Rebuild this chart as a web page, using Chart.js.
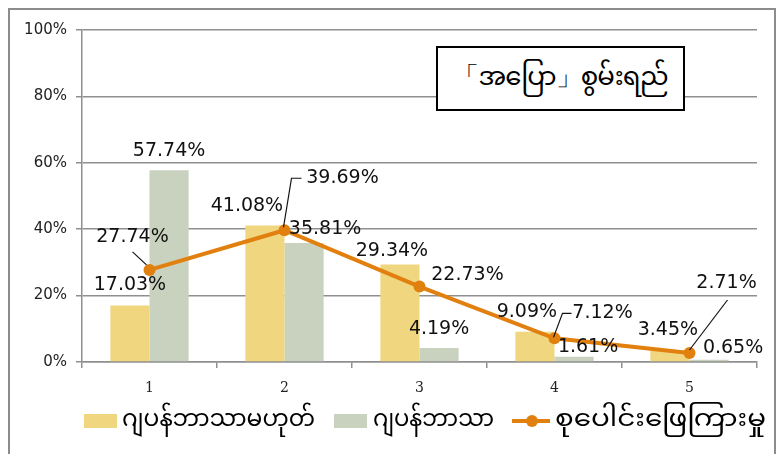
<!DOCTYPE html>
<html>
<head>
<meta charset="utf-8">
<script src="https://cdn.jsdelivr.net/npm/chart.js@4.4.1/dist/chart.umd.min.js"></script>
<style>
  body { margin: 0; width: 784px; height: 454px; overflow: hidden; background: #fff; position: relative;
         font-family: "Noto Sans Myanmar", "Myanmar Text", Padauk, "Noto Sans", sans-serif; }
  #wrap { position: absolute; left: 0; top: 0; width: 784px; height: 454px; }
  #frame { position: absolute; left: 8px; top: 8px; width: 764px; height: 470px; border: 2px solid #8c8c8c; pointer-events: none; }
  #title { position: absolute; left: 436px; top: 46px; width: 245px; height: 61px; border: 2.5px solid #000; background: #fff;
           display: flex; align-items: center; justify-content: center; font-size: 26px; color: #000; letter-spacing: -1px; }
  #legend { position: absolute; left: 0; top: 404px; width: 784px; height: 34px; font-size: 23px; color: #000; }
  .sw { position: absolute; top: 9px; }
  .txt { position: absolute; top: 0; height: 34px; line-height: 34px; white-space: nowrap; transform-origin: 0 50%; }
</style>
</head>
<body>
<div id="wrap"><canvas id="chart" width="784" height="454"></canvas></div>
<div id="title"></div>
<div id="legend"></div>
<div id="frame"></div>
<script>
const categories = ['1', '2', '3', '4', '5'];
const seriesNames = ['ဂျပန်ဘာသာမဟုတ်', 'ဂျပန်ဘာသာ', 'စုပေါင်းဖြေကြားမှု'];
const nonJapanese = [17.03, 41.08, 29.34, 9.09, 3.45];
const japanese = [57.74, 35.81, 4.19, 1.61, 0.65];
const overall = [27.74, 39.69, 22.73, 7.12, 2.71];
const yTicks = [0, 20, 40, 60, 80, 100];
const chartTitle = '「အပြော」စွမ်းရည်';

const colors = ['#f0d67e', '#c9d2be', '#e2800f'];

// where each value label sits, relative to its bar top / point
const labelOffsets = [
    [[0, -20], [-18, -20], [-8, -14], [-8, -20], [-2, -20]],
    [[0, -19], [21, -14], [0, -19], [14, -10], [24, -12]],
    [
        { at: [-17, -33], lead: [[-17, -18], [-3, -5]] },
        { at: [58, -52], lead: [[17, -52], [7, -52], [-1, -3]] },
        { at: [48, -11] },
        { at: [48, -25], lead: [[17, -25], [8, -25], [-1, -1]] },
        { at: [37, -70], lead: [[38, -53], [0, -3]] },
    ],
];

const valueLabels = {
    id: 'valueLabels',
    afterDatasetsDraw(chart) {
        const ctx = chart.ctx;
        ctx.save();
        ctx.font = '19px "DejaVu Sans"';
        ctx.fillStyle = '#111';
        ctx.strokeStyle = '#111';
        ctx.lineWidth = 1.2;
        ctx.textAlign = 'center';
        ctx.textBaseline = 'middle';
        chart.data.datasets.forEach((ds, i) => {
            chart.getDatasetMeta(i).data.forEach((el, j) => {
                let o = labelOffsets[i][j];
                if (Array.isArray(o)) o = { at: o };
                if (o.lead) {
                    ctx.beginPath();
                    o.lead.forEach((p, k) => {
                        if (k === 0) ctx.moveTo(el.x + p[0], el.y + p[1]);
                        else ctx.lineTo(el.x + p[0], el.y + p[1]);
                    });
                    ctx.stroke();
                }
                ctx.fillText(ds.data[j].toFixed(2) + '%', el.x + o.at[0], el.y + o.at[1]);
            });
        });
        ctx.restore();
    }
};

const gridColor = '#8f8f8f';

new Chart(document.getElementById('chart'), {
    type: 'bar',
    data: {
        labels: categories,
        datasets: [
            { label: seriesNames[0], data: nonJapanese, backgroundColor: colors[0], order: 2,
              categoryPercentage: 0.58, barPercentage: 1 },
            { label: seriesNames[1], data: japanese, backgroundColor: colors[1], order: 2,
              categoryPercentage: 0.58, barPercentage: 1 },
            { type: 'line', label: seriesNames[2], data: overall, borderColor: colors[2], backgroundColor: colors[2],
              borderWidth: 4, pointRadius: 6, pointBackgroundColor: colors[2], pointBorderWidth: 0,
              tension: 0, order: 1, clip: false },
        ],
    },
    plugins: [valueLabels],
    options: {
        responsive: false,
        animation: false,
        layout: { padding: { left: 0, right: 27, top: 30, bottom: 52 } },
        plugins: { legend: { display: false }, tooltip: { enabled: false } },
        scales: {
            x: {
                afterFit: (s) => { s.height = 40; },
                grid: { display: true, drawOnChartArea: false, drawTicks: true, tickLength: 6, color: gridColor, lineWidth: 1.5, offset: true },
                border: { display: true, color: gridColor, width: 1.5 },
                ticks: { font: { family: '"DejaVu Serif"', size: 14 }, color: '#222', padding: 12 },
            },
            y: {
                min: 0, max: 100,
                afterFit: (s) => { s.width = 82; },
                afterBuildTicks: (s) => { s.ticks = yTicks.map((v) => ({ value: v })); },
                grid: { color: gridColor, lineWidth: 1.5, tickLength: 6 },
                border: { display: true, color: gridColor, width: 1.5 },
                ticks: { font: { family: '"DejaVu Sans"', size: 15 }, color: '#222', padding: 9,
                         callback: (v) => v + '%' },
            },
        },
    },
});

document.getElementById('title').textContent = chartTitle;

// legend: swatch left edge, text left edge, text width
const legendSlots = [[84, 122, 193], [334, 373, 121], [512, 555, 211]];
const legend = document.getElementById('legend');
seriesNames.forEach((name, i) => {
    const [sx, tx, tw] = legendSlots[i];
    const sw = document.createElement('canvas');
    sw.className = 'sw';
    sw.width = i < 2 ? 33 : 38; sw.height = 16;
    sw.style.left = sx + 'px';
    const c = sw.getContext('2d');
    if (i < 2) {
        c.fillStyle = colors[i];
        c.fillRect(0, 1, 33, 14);
    } else {
        c.strokeStyle = colors[i]; c.fillStyle = colors[i]; c.lineWidth = 4;
        c.beginPath(); c.moveTo(0, 8); c.lineTo(38, 8); c.stroke();
        c.beginPath(); c.arc(20, 8, 6, 0, Math.PI * 2); c.fill();
    }
    const txt = document.createElement('span');
    txt.className = 'txt';
    txt.textContent = name;
    txt.style.left = tx + 'px';
    legend.appendChild(sw);
    legend.appendChild(txt);
    const w = txt.getBoundingClientRect().width;
    if (w > 0) txt.style.transform = 'scaleX(' + (tw / w).toFixed(3) + ')';
});
</script>
</body>
</html>
